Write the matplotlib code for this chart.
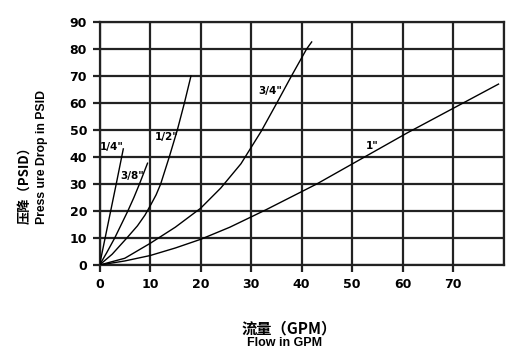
import matplotlib
matplotlib.use("Agg")
import matplotlib.pyplot as plt

# Data (flow GPM, pressure drop PSID)
q_14 = [0, 1.1, 2.2, 3.3, 4.7]
p_14 = [0, 10, 20, 30, 43]

q_38 = [0, 1.4, 3.0, 4.3, 5.6, 6.8, 7.9, 9.5]
p_38 = [0, 4.5, 10, 15, 20, 25, 30, 37.7]

q_12 = [0, 2.5, 5.4, 7.5, 9.0, 10.2, 11.2, 12.1, 13.8, 15.4, 16.8, 18.1]
p_12 = [0, 4, 10, 14.5, 18.5, 22.5, 26, 30, 40, 50, 60, 70]

q_34 = [0, 5, 10, 15, 20, 24, 28, 32.0, 35.1, 38.0, 41.0, 42.0]
p_34 = [0, 2.5, 8, 14, 21, 28.5, 37.5, 49.5, 60, 70, 80, 82.6]

q_1 = [0, 5, 10, 15, 20, 25.8, 33, 43, 52, 61, 71, 79]
p_1 = [0, 1.5, 3.5, 6.3, 9.5, 14, 20.5, 30, 39.5, 49, 59, 67]

labels = ['1/4"', '3/8"', '1/2"', '3/4"', '1"']
label_pos = [(0.1, 43.7), (4.1, 33), (11.0, 47.4), (31.4, 64.4), (52.8, 44)]

x_ticks = [0, 10, 20, 30, 40, 50, 60, 70]
y_ticks = [0, 10, 20, 30, 40, 50, 60, 70, 80, 90]

plt.rcParams['font.family'] = ['Liberation Sans', 'Noto Sans CJK SC', 'DejaVu Sans']

fig = plt.figure(figsize=(5.24, 3.54), dpi=100)
ax = fig.add_axes([0.190, 0.2514, 0.771, 0.6865])

gc = '#222222'
for q, p in [(q_14, p_14), (q_38, p_38), (q_12, p_12), (q_34, p_34), (q_1, p_1)]:
    ax.plot(q, p, color='black', lw=1.0, zorder=3, solid_joinstyle='round')

for t, (x, y) in zip(labels, label_pos):
    ax.text(x, y, t, fontsize=7.5, fontweight='bold', color='black', zorder=4,
            ha='left', va='center', family='DejaVu Sans')

ax.set_xlim(0, 80)
ax.set_ylim(0, 90)
ax.set_xticks(x_ticks)
ax.set_yticks(y_ticks)
ax.set_xticks([80], minor=True)
ax.grid(True, color=gc, lw=1.6, zorder=1)
ax.grid(True, which='minor', axis='x', color=gc, lw=1.6)
ax.tick_params(axis='both', which='both', length=5, width=1.6, color=gc, direction='out',
               labelsize=9, pad=4)
ax.tick_params(axis='x', which='minor', length=0)
for lab in ax.get_xticklabels() + ax.get_yticklabels():
    lab.set_fontweight('bold')
    lab.set_family('DejaVu Sans')
for s in ax.spines.values():
    s.set_color(gc)
    s.set_linewidth(1.6)

fig.text(0.046, 0.367, '压降（PSID）', rotation=90, fontsize=9.5, fontweight='bold',
         ha='center', va='bottom', family=['Noto Sans CJK SC', 'DejaVu Sans'])
fig.text(0.080, 0.367, 'Press ure Drop in PSID', rotation=90, fontsize=8.8, fontweight='bold',
         ha='center', va='bottom')

fig.text(0.552, 0.071, '流量（GPM）', fontsize=11, fontweight='bold', ha='center', va='center',
         family=['Noto Sans CJK SC', 'DejaVu Sans'])
fig.text(0.544, 0.031, 'Flow in GPM', fontsize=9, fontweight='bold', ha='center', va='center')

fig.savefig('out.png', dpi=100)
